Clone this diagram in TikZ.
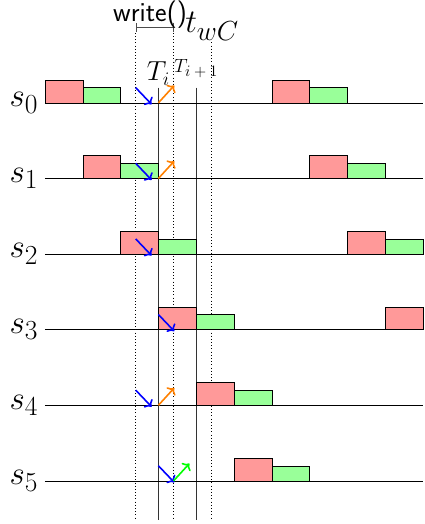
\documentclass[tikz,border=0pt]{standalone}
\usepackage{tikz}
\usetikzlibrary{
  arrows.meta
}
\definecolor{SendRed}{HTML}{FF9999}
\definecolor{AckGreen}{HTML}{99FF99}
\definecolor{PushOrange}{HTML}{FF8000}
\definecolor{PushGreen}{HTML}{00FF00}
\tikzset{
  lane/.style={
    draw=black,
    thin
  },
  sendbox/.style={
    draw=black,
    fill=SendRed
  },
  ackbox/.style={
    draw=black,
    fill=AckGreen
  },
  marker/.style={
    draw=black!80,
    thin
  },
  guide/.style={
    draw=black,
    dotted
  },
  lanelabel/.style={
    anchor=east,
    font=\Huge,
    inner sep=5pt
  },
  timelabel/.style={
    anchor=base,
    inner sep=0pt
  },
  interval/.style={
    {Bar[width=7pt]}-{Bar[width=7pt]},
    draw=black!70,
    thin
  },
  wait/.style={
    ->,
    very thick,
    blue
  },
  push/.style={
    ->,
    very thick,
    PushOrange
  },
  done/.style={
    ->,
    very thick,
    PushGreen
  }
}

\begin{document}
\begin{tikzpicture}

  \useasboundingbox (-1.19,-11.14) rectangle (10.05,2.72);

  % guides and round boundaries
  \draw[guide] (2.4,1.85) -- (2.4,-11.03);
  \draw[guide] (3.4,1.85) -- (3.4,-11.03);
  \draw[guide] (4.4,1.6) -- (4.4,-11.03);
  \draw[marker] (3,0.4) -- (3,-11.03);
  \draw[marker] (4,0.4) -- (4,-11.03);

  % lanes
  \node[lanelabel] (s0) at (0,0) {$s_0$};
  \node[lanelabel] (s1) at (0,-2) {$s_1$};
  \node[lanelabel] (s2) at (0,-4) {$s_2$};
  \node[lanelabel] (s3) at (0,-6) {$s_3$};
  \node[lanelabel] (s4) at (0,-8) {$s_4$};
  \node[lanelabel] (s5) at (0,-10) {$s_5$};
  \draw[lane] (0,0) -- (10,0);
  \draw[lane] (0,-2) -- (10,-2);
  \draw[lane] (0,-4) -- (10,-4);
  \draw[lane] (0,-6) -- (10,-6);
  \draw[lane] (0,-8) -- (10,-8);
  \draw[lane] (0,-10) -- (10,-10);

  % s0
  \draw[sendbox] (0,0) rectangle (1,0.6);
  \draw[ackbox] (1,0) rectangle (2,0.4);
  \draw[sendbox] (6,0) rectangle (7,0.6);
  \draw[ackbox] (7,0) rectangle (8,0.4);
  % s1
  \draw[sendbox] (1,-2) rectangle (2,-1.4);
  \draw[ackbox] (2,-2) rectangle (3,-1.6);
  \draw[sendbox] (7,-2) rectangle (8,-1.4);
  \draw[ackbox] (8,-2) rectangle (9,-1.6);
  % s2
  \draw[sendbox] (2,-4) rectangle (3,-3.4);
  \draw[ackbox] (3,-4) rectangle (4,-3.6);
  \draw[sendbox] (8,-4) rectangle (9,-3.4);
  \draw[ackbox] (9,-4) rectangle (10,-3.6);
  % s3
  \draw[sendbox] (3,-6) rectangle (4,-5.4);
  \draw[ackbox] (4,-6) rectangle (5,-5.6);
  \draw[sendbox] (9,-6) rectangle (10,-5.4);
  % s4
  \draw[sendbox] (4,-8) rectangle (5,-7.4);
  \draw[ackbox] (5,-8) rectangle (6,-7.6);
  % s5
  \draw[sendbox] (5,-10) rectangle (6,-9.4);
  \draw[ackbox] (6,-10) rectangle (7,-9.6);

  % arrows
  \draw[wait] (2.4,0.4) -- (2.82,-0.04);
  \draw[push] (3,0) -- (3.42,0.46);
  \draw[wait] (2.4,-1.6) -- (2.82,-2.04);
  \draw[push] (3,-2) -- (3.42,-1.54);
  \draw[wait] (2.4,-3.6) -- (2.82,-4.04);
  \draw[wait] (3,-5.6) -- (3.42,-6.04);
  \draw[wait] (2.4,-7.6) -- (2.82,-8.04);
  \draw[push] (3,-8) -- (3.42,-7.54);
  \draw[wait] (3,-9.6) -- (3.42,-10.04);
  \draw[done] (3.4,-10) -- (3.82,-9.54);

  % time labels
  \draw[interval] (2.4,2.0) -- (3.4,2.0);
  \node[timelabel, font=\huge] (write) at (2.78,2.16) {\textsf{write()}};
  \node[timelabel, font=\Huge] (twc) at (4.42,1.85) {$t_{wC}$};
  \node[timelabel, font=\huge] (Ti) at (3,0.58) {$T_i$};
  \node[timelabel, font=\Large] (Tnext) at (4,0.79) {$T_{\mbox{\large$i+1$}}$};

\end{tikzpicture}
\end{document}
